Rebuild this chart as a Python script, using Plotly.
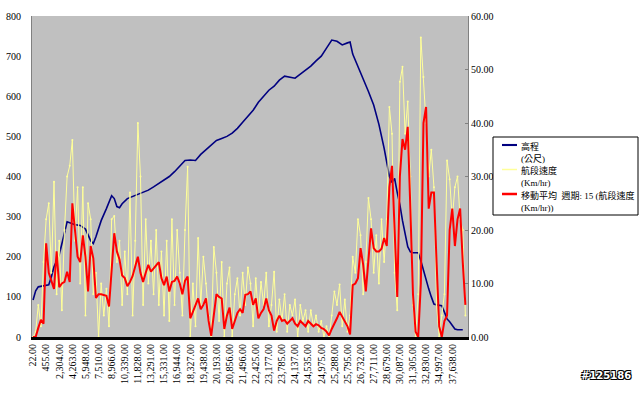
import plotly.graph_objects as go

# ---- data ----
x_labels = ["22.00", "455.00", "2,304.00", "4,263.00", "5,948.00", "7,510.00", "8,966.00",
            "10,339.00", "11,828.00", "13,291.00", "15,331.00", "16,944.00", "18,327.00",
            "19,438.00", "20,193.00", "20,856.00", "21,496.00", "22,425.00", "23,177.00",
            "23,785.00", "24,137.00", "24,535.00", "24,975.00", "25,288.00", "25,795.00",
            "26,732.00", "27,711.00", "28,679.00", "30,087.00", "31,305.00", "32,830.00",
            "34,997.00", "37,638.00"]
label_step = 5

speed = [0, 1, 6, 2, 14, 22, 25, 12, 29, 8, 18, 5, 20, 30, 32, 36.8, 18, 28, 10, 28,
         4, 25, 22, 8, 12, 0, 10, 4, 9, 2, 22, 22.6, 14, 18, 6, 16, 8, 27, 4, 18,
         40, 30, 6, 22, 10, 18, 8, 20, 6, 16, 4, 18, 3, 22, 6, 20, 12, 4, 20, 31.8,
         0, 10, 2, 18.5, 6, 15, 10, 4, 0, 16.8, 12, 3, 14, 0, 10, 13, 0, 8, 11, 4,
         12, 6, 13, 10, 2, 11, 4, 10.3, 6, 12, 2, 6, 12.2, 1, 7, 3, 8, 1, 6, 4,
         7, 0, 6, 3, 5, 1, 5, 2, 4, 1, 3, 0, 2, 0, 4, 8.5, 6, 9.8, 2, 7,
         1, 4, 15, 12, 22, 19, 8, 14, 26, 22, 12, 19, 10, 22, 14, 22, 43, 38, 12, 5,
         47.7, 50.5, 38, 44, 30, 6, 0, 8, 56, 48.6, 40, 30, 35, 28, 6, 0, 4, 8, 33, 29.5,
         22, 28, 30, 22, 20, 4]

moving_avg = [0, 0, 1.7, 3.2, 2.5, 17.5, 12, 10.3, 9, 16, 9.3, 10, 10.3, 12.2, 10.3, 25, 20, 15, 14, 19,
              15, 8.5, 17, 14.7, 7.3, 8, 8, 7.8, 7.7, 5.7, 13.2, 19.4, 16, 14.5, 11.5, 11, 9.5, 10.3, 11.4, 13.1,
              15, 12, 10.3, 12, 13.5, 12.2, 12.8, 13.5, 14, 11, 9.7, 11.3, 8.5, 10.3, 10.5, 11.3, 10, 8, 10.5, 11.3,
              3.5, 4.7, 6, 7.2, 5.2, 6, 7.2, 3, 0.2, 4, 8, 7.5, 7.2, 1.5, 4, 5.5, 1.5, 3, 4.5, 5.2,
              4.5, 7.9, 8, 8.5, 6, 7.2, 3.5, 4.5, 5.2, 7.2, 5, 4, 1.2, 3, 4, 3, 3.2, 2.5, 3, 3.5,
              2.5, 2, 3, 2.5, 2, 3, 2.5, 2, 2.4, 2.2, 1.7, 1.5, 1, 0.3, 1.5, 2.4, 3.5, 4.7, 3.8, 3,
              2, 0.5, 9.7, 10, 11, 16.6, 13.5, 8.5, 14.6, 20.3, 16.6, 16, 16, 16.5, 18.5, 17, 28, 32, 20, 7.5,
              30, 37, 35, 39.3, 24, 8, 1, 0, 10, 40, 43, 24, 27, 27, 14, 2, 0, 3, 4, 20,
              24, 17, 22, 24, 14, 6]

elev_idx = [0, 1, 2, 4, 6, 7, 8, 10, 12, 13, 14, 16, 18, 20, 22, 23, 24, 26, 28, 30,
            31, 32, 33, 34, 36, 38, 40, 42, 44, 46, 48, 50, 52, 54, 56, 58, 60, 62, 64, 66,
            68, 70, 72, 74, 76, 78, 80, 82, 84, 86, 88, 90, 92, 94, 96, 98, 100, 102, 104, 106,
            108, 110, 112, 114, 116, 118, 120, 121, 122, 124, 126, 128, 130, 132, 134, 135, 136, 137, 138, 139,
            140, 141, 142, 143, 144, 145, 146, 147, 148, 149, 150, 151, 152, 153, 154, 155, 156, 157, 158, 159,
            160, 161, 162, 163, 164]
elevation = [92, 115, 125, 128, 130, 150, 175, 205, 265, 287, 285, 280, 278, 269, 240, 233, 250, 290, 320, 352,
             345, 325, 322, 332, 345, 350, 355, 360, 366, 374, 382, 390, 400, 412, 425, 440, 441, 440, 455, 467,
             480, 490, 495, 500, 508, 520, 535, 550, 565, 585, 600, 615, 625, 640, 650, 648, 645, 655, 665, 675,
             688, 700, 720, 740, 737, 728, 733, 735, 705, 675, 645, 612, 578, 530, 470, 437, 400, 385, 395, 360,
             330, 290, 260, 225, 212, 210, 210, 210, 190, 165, 140, 120, 100, 82, 80, 79, 78, 62, 45, 38,
             28, 20, 18, 18, 18]

series_names = ["高程<br>(公尺)", "航段速度<br>(Km/hr)",
                "移動平均\u00a0\u00a0週期: 15 (航段速度<br>(Km/hr))"]
series_colors = ["#000080", "#FFFF99", "#FF0000"]
series_widths = [1.6, 1, 2]

idx = list(range(len(speed)))
tick_pos = [i * label_step for i in range(len(x_labels))]

serif = "Liberation Serif, Times New Roman, serif"
cjk = "Liberation Serif, Noto Sans CJK TC, serif"

# plot-area geometry (pixels) used to place the hand-made legend
L, R, T, B = 32, 468, 16, 337
def px(x):
    return (x - L) / (R - L)
def py(y):
    return (B - y) / (B - T)

fig = go.Figure()
fig.add_trace(go.Scatter(
    x=idx, y=speed, yaxis="y2", mode="lines+markers",
    line=dict(color=series_colors[1], width=series_widths[1]),
    marker=dict(size=2, color=series_colors[1]), name=series_names[1]))
fig.add_trace(go.Scatter(
    x=idx, y=moving_avg, yaxis="y2", mode="lines",
    line=dict(color=series_colors[2], width=series_widths[2]), name=series_names[2]))
fig.add_trace(go.Scatter(
    x=elev_idx, y=elevation, yaxis="y", mode="lines",
    line=dict(color=series_colors[0], width=series_widths[0]), name=series_names[0]))

fig.update_layout(
    width=640, height=393,
    margin=dict(l=L, r=640 - R, t=T, b=393 - B, autoexpand=False),
    paper_bgcolor="white", plot_bgcolor="#C0C0C0",
    showlegend=False,
    xaxis=dict(range=[-0.4, 166], tickmode="array", tickvals=tick_pos, ticktext=x_labels,
               tickangle=-90, tickfont=dict(family=serif, size=10, color="black"),
               showgrid=False, zeroline=False, showline=True, linecolor="black", linewidth=3,
               ticks="", automargin=False),
    yaxis=dict(range=[0, 800], dtick=100, tickfont=dict(family=serif, size=10, color="black"),
               showgrid=False, zeroline=False, showline=True, linecolor="#808080", linewidth=1,
               ticks="", ticklabelstandoff=8, automargin=False),
    yaxis2=dict(range=[0, 60], dtick=10, tickformat=".2f", overlaying="y", side="right",
                tickfont=dict(family=serif, size=10, color="black"),
                showgrid=False, zeroline=False, showline=True, linecolor="#808080", linewidth=1,
                ticks="inside", ticklen=3, tickcolor="#808080", automargin=False),
)

# legend box
fig.add_shape(type="rect", xref="paper", yref="paper",
              x0=px(493), x1=px(638), y0=py(215), y1=py(137),
              line=dict(color="black", width=1), fillcolor="white", layer="above")
entry_y = [145, 169.5, 194]
for name, col, w, ey in zip(series_names, series_colors, series_widths, entry_y):
    fig.add_shape(type="line", xref="paper", yref="paper",
                  x0=px(502), x1=px(517), y0=py(ey), y1=py(ey),
                  line=dict(color=col, width=w + 0.5), layer="above")
    fig.add_annotation(text=name, xref="paper", yref="paper",
                       x=px(519), y=py(ey - 6.5), xanchor="left", yanchor="top",
                       align="left", showarrow=False,
                       font=dict(family=cjk, size=9, color="black"))

fig.add_annotation(text="<b>#125186</b>", xref="paper", yref="paper",
                   x=px(633), y=py(383), xanchor="right", showarrow=False,
                   font=dict(family="DejaVu Sans, sans-serif", size=10, color="white",
                             shadow="1px 1px 0 black, -1px -1px 0 black, 1px -1px 0 black, -1px 1px 0 black"))

fig.write_html("out.html", config={"displayModeBar": False},
               post_script="document.body.style.margin='0';")
